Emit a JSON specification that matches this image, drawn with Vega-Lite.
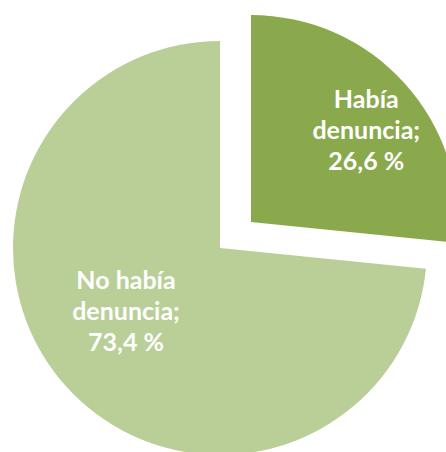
{
  "$schema": "https://vega.github.io/schema/vega-lite/v6.json",
  "width": 440,
  "height": 408,
  "autosize": {"type": "none"},
  "padding": {"left": 0, "top": 44, "right": 6, "bottom": 0},
  "background": "white",
  "config": {"view": {"stroke": null}},
  "data": {
    "values": [
      {"cat": "Había denuncia", "pct": 26.6, "orden": 1, "label": "Había\ndenuncia;\n26,6 %"},
      {"cat": "No había denuncia", "pct": 73.4, "orden": 2, "label": "No había\ndenuncia;\n73,4 %"}
    ]
  },
  "encoding": {
    "theta": {"field": "pct", "type": "quantitative", "stack": true},
    "order": {"field": "orden", "type": "quantitative"},
    "color": {
      "field": "cat",
      "type": "nominal",
      "scale": {"domain": ["Había denuncia", "No había denuncia"], "range": ["#8aa94d", "#b9cf97"]},
      "legend": null
    }
  },
  "layer": [
    {
      "mark": {"type": "arc", "outerRadius": 207},
      "encoding": {
        "opacity": {"condition": {"test": "datum.cat == 'Había denuncia'", "value": 0}, "value": 1}
      }
    },
    {
      "mark": {"type": "arc", "outerRadius": 207, "xOffset": 31, "yOffset": -26},
      "encoding": {
        "opacity": {"condition": {"test": "datum.cat == 'No había denuncia'", "value": 0}, "value": 1}
      }
    },
    {
      "mark": {"type": "text", "radius": 150, "xOffset": 35, "yOffset": -47, "font": "Lato", "fontWeight": "bold", "fontSize": 25, "lineBreak": "\n", "lineHeight": 31, "align": "center", "baseline": "middle"},
      "encoding": {
        "text": {"field": "label"},
        "color": {"value": "white"},
        "opacity": {"condition": {"test": "datum.cat == 'No había denuncia'", "value": 0}, "value": 1}
      }
    },
    {
      "mark": {"type": "text", "radius": 120, "xOffset": -5, "yOffset": -47, "font": "Lato", "fontWeight": "bold", "fontSize": 25, "lineBreak": "\n", "lineHeight": 31, "align": "center", "baseline": "middle"},
      "encoding": {
        "text": {"field": "label"},
        "color": {"value": "white"},
        "opacity": {"condition": {"test": "datum.cat == 'Había denuncia'", "value": 0}, "value": 1}
      }
    }
  ]
}
